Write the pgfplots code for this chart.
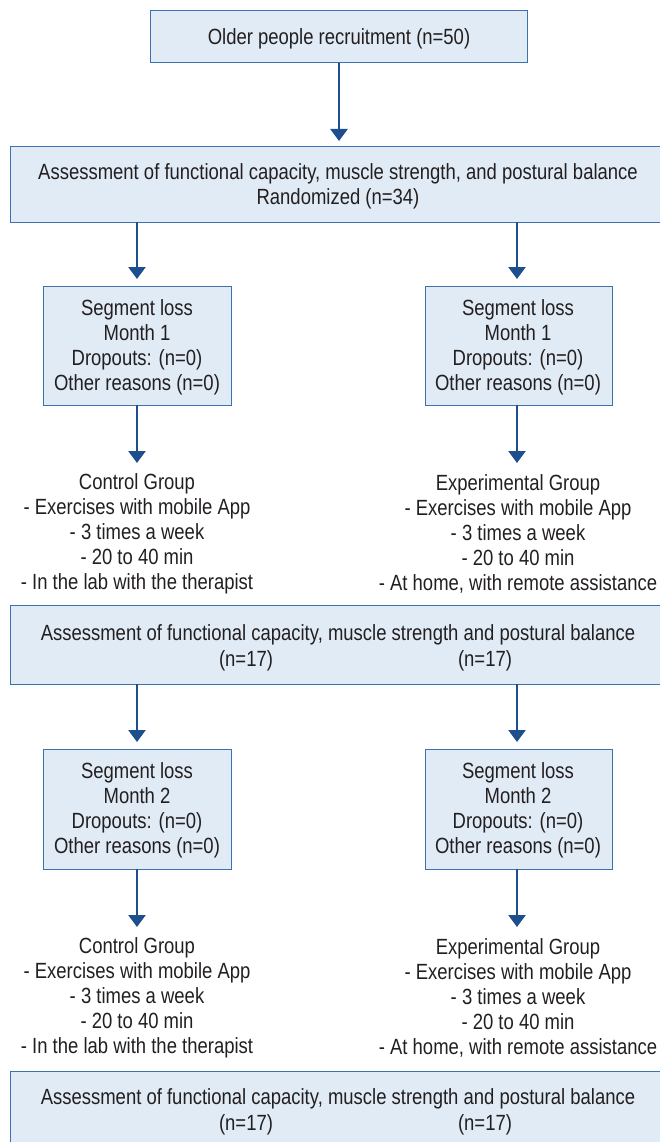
\documentclass[border=0pt]{standalone}
\usepackage{fontspec}
\setmainfont{Liberation Sans}[FakeStretch=0.84]
\usepackage{pgfplots}
\pgfplotsset{compat=1.18}
\usetikzlibrary{arrows.meta}
\definecolor{boxfill}{HTML}{E1EBF6}
\definecolor{boxline}{HTML}{3A73AE}
\definecolor{arr}{HTML}{1D4F8F}
\definecolor{txt}{HTML}{231F20}
\begin{document}
\begin{tikzpicture}
\begin{axis}[width=660pt,height=1142pt,scale only axis,
  xmin=0,xmax=660,ymin=0,ymax=1142,y dir=reverse,hide axis,clip=true,
  arrowline/.style={draw=arr,no marks,solid,line width=2.6pt,-{Triangle[width=17pt,length=12pt]}},
  ]
% boxes
\begin{scope}[draw=boxline,fill=boxfill,line width=1pt]
\filldraw (axis cs:150,11) rectangle (axis cs:527,63);
\filldraw (axis cs:10,147) rectangle (axis cs:665,222);
\filldraw (axis cs:43,286) rectangle (axis cs:231,405);
\filldraw (axis cs:425,286) rectangle (axis cs:612,405);
\filldraw (axis cs:10,605) rectangle (axis cs:665,684);
\filldraw (axis cs:43,749) rectangle (axis cs:231,869);
\filldraw (axis cs:425,749) rectangle (axis cs:612,869);
\filldraw (axis cs:10,1071) rectangle (axis cs:665,1150);
\end{scope}
% arrows
\addplot[arrowline] coordinates {(339,63) (339,141)};
\addplot[arrowline] coordinates {(137,222) (137,279)};
\addplot[arrowline] coordinates {(517,222) (517,279)};
\addplot[arrowline] coordinates {(137,405) (137,463)};
\addplot[arrowline] coordinates {(517,405) (517,463)};
\addplot[arrowline] coordinates {(137,684) (137,742)};
\addplot[arrowline] coordinates {(517,684) (517,742)};
\addplot[arrowline] coordinates {(137,869) (137,927)};
\addplot[arrowline] coordinates {(517,869) (517,927)};
% texts
\begin{scope}[every node/.style={text=txt,align=center,font=\fontsize{22}{25}\selectfont}]
\node at (axis cs:339,39) {Older people recruitment (n=50)};
\node at (axis cs:338,186) {Assessment of functional capacity, muscle strength, and postural balance\\Randomized (n=34)};
\node at (axis cs:137,347) {Segment loss\\Month 1\\Dropouts: (n=0)\\Other reasons (n=0)};
\node at (axis cs:518,347) {Segment loss\\Month 1\\Dropouts: (n=0)\\Other reasons (n=0)};
\node at (axis cs:137,534) {Control Group\\- Exercises with mobile App\\- 3 times a week\\- 20 to 40 min\\- In the lab with the therapist};
\node at (axis cs:518,534) {Experimental Group\\- Exercises with mobile App\\- 3 times a week\\- 20 to 40 min\\- At home, with remote assistance};
\node at (axis cs:338,635) {Assessment of functional capacity, muscle strength and postural balance};
\node at (axis cs:246,661) {(n=17)};
\node at (axis cs:485,661) {(n=17)};
\node at (axis cs:137,810) {Segment loss\\Month 2\\Dropouts: (n=0)\\Other reasons (n=0)};
\node at (axis cs:518,810) {Segment loss\\Month 2\\Dropouts: (n=0)\\Other reasons (n=0)};
\node at (axis cs:137,998) {Control Group\\- Exercises with mobile App\\- 3 times a week\\- 20 to 40 min\\- In the lab with the therapist};
\node at (axis cs:518,998) {Experimental Group\\- Exercises with mobile App\\- 3 times a week\\- 20 to 40 min\\- At home, with remote assistance};
\node at (axis cs:338,1099) {Assessment of functional capacity, muscle strength and postural balance};
\node at (axis cs:246,1125) {(n=17)};
\node at (axis cs:485,1125) {(n=17)};
\end{scope}
\end{axis}
\pgfresetboundingbox
\useasboundingbox (current axis.south west) rectangle (current axis.north east);
\end{tikzpicture}
\end{document}
